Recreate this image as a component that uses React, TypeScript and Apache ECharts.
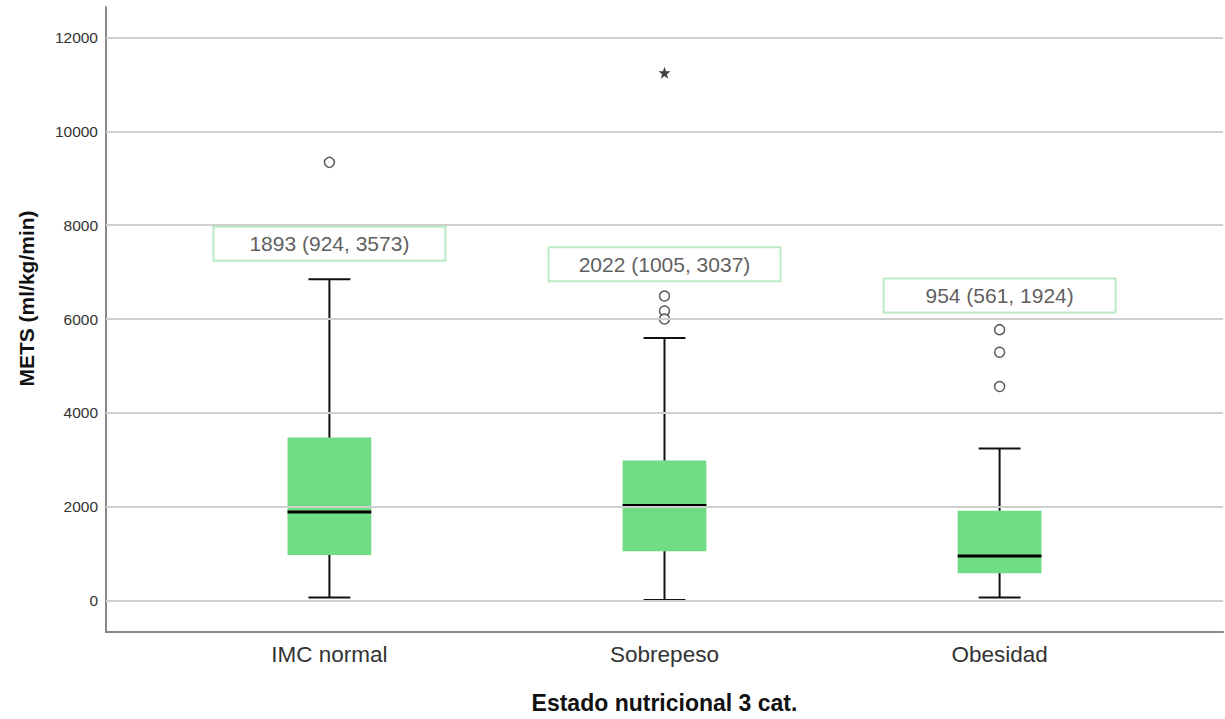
import React, { useEffect, useRef } from "react";
import * as echarts from "echarts";

const categories = ["IMC normal", "Sobrepeso", "Obesidad"];
const whiskerLow = [68, 11, 68];
const q1 = [973, 1052, 584];
const median = [1887, 2029, 952];
const q3 = [3474, 2985, 1916];
const whiskerHigh = [6851, 5598, 3240];
const outliersIMC = [9340];
const outliersSobrepeso = [6490, 6171, 6001];
const outliersObesidad = [5774, 5294, 4563];
const extremesSobrepeso = [11249];
const annotationTexts = ["1893 (924, 3573)", "2022 (1005, 3037)", "954 (561, 1924)"];
const annotationY = [7606, 7170, 6501];
const yTicks = [0, 2000, 4000, 6000, 8000, 10000, 12000];

const SANS = "'Liberation Sans', Arial, sans-serif";
const STAR =
  "path://M50 0 L61.76 33.82 L97.55 34.55 L69.02 56.18 L79.39 90.45 L50 70 L20.61 90.45 L30.98 56.18 L2.45 34.55 L38.24 33.82 Z";

export default function App() {
  const ref = useRef<HTMLDivElement>(null);
  useEffect(() => {
    if (!ref.current) return;
    const chart = echarts.init(ref.current, undefined, { renderer: "svg" });
    const boxData = categories.map((_, i) => [i, whiskerLow[i], q1[i], median[i], q3[i], whiskerHigh[i]]);
    const outlierData = [
      ...outliersIMC.map((v) => [0, v]),
      ...outliersSobrepeso.map((v) => [1, v]),
      ...outliersObesidad.map((v) => [2, v]),
    ];
    const extremeData = extremesSobrepeso.map((v) => [1, v]);
    const annData = categories.map((_, i) => [i, annotationY[i]]);

    chart.setOption({
      animation: false,
      backgroundColor: "#ffffff",
      grid: { left: 106, right: 2, top: 7, bottom: 85, containLabel: false },
      xAxis: {
        type: "value",
        min: -2 / 3,
        max: 8 / 3,
        axisLine: { show: true, onZero: false, lineStyle: { color: "#888888", width: 2 } },
        axisTick: { show: false },
        splitLine: { show: false },
        axisLabel: {
          customValues: [0, 1, 2],
          formatter: (v: number) => categories[Math.round(v)] ?? "",
          fontSize: 22.5,
          fontFamily: SANS,
          color: "#333333",
          margin: 11,
        },
        name: "Estado nutricional 3 cat.",
        nameLocation: "middle",
        nameGap: 59,
        nameTextStyle: { fontSize: 23, fontWeight: "bold", fontFamily: SANS, color: "#111111" },
      },
      yAxis: {
        type: "value",
        min: -669,
        max: 12651,
        axisLine: { show: true, onZero: false, lineStyle: { color: "#888888", width: 2 } },
        axisTick: { show: false },
        splitLine: { show: false },
        axisLabel: {
          customValues: yTicks,
          formatter: (v: number) => String(v),
          fontSize: 15.5,
          fontFamily: SANS,
          color: "#333333",
          margin: 8,
        },
        name: "METS (ml/kg/min)",
        nameLocation: "middle",
        nameGap: 69,
        nameTextStyle: {
          fontSize: 21,
          fontWeight: "bold",
          fontFamily: SANS,
          color: "#111111",
          padding: [0, 0, 0, 42],
        },
      },
      series: [
        {
          type: "custom",
          name: "box",
          z: 1,
          data: boxData,
          encode: { x: 0, y: [1, 2, 3, 4, 5] },
          renderItem: (params: any, api: any) => {
            const x = api.value(0);
            const pQ1 = api.coord([x, api.value(2)]);
            const pQ3 = api.coord([x, api.value(4)]);
            const w = api.size([0.25, 0])[0];
            return {
              type: "rect",
              shape: { x: pQ1[0] - w / 2, y: pQ3[1], width: w, height: pQ1[1] - pQ3[1] },
              style: { fill: "#70dc84" },
            };
          },
        },
        {
          type: "line",
          name: "grid",
          z: 2,
          data: [],
          markLine: {
            silent: true,
            symbol: ["none", "none"],
            label: { show: false },
            lineStyle: { color: "#cfcfcf", width: 2, type: "solid" },
            data: yTicks.map((v) => ({ yAxis: v })),
          },
        },
        {
          type: "custom",
          name: "whiskers",
          z: 3,
          data: boxData,
          encode: { x: 0, y: [1, 2, 3, 4, 5] },
          renderItem: (params: any, api: any) => {
            const x = api.value(0);
            const pLow = api.coord([x, api.value(1)]);
            const pQ1 = api.coord([x, api.value(2)]);
            const pMed = api.coord([x, api.value(3)]);
            const pQ3 = api.coord([x, api.value(4)]);
            const pHigh = api.coord([x, api.value(5)]);
            const w = api.size([0.25, 0])[0];
            const cw = w / 2;
            const cx = pQ1[0];
            const ls = { stroke: "#111111", lineWidth: 2 };
            return {
              type: "group",
              children: [
                { type: "line", shape: { x1: cx, y1: pLow[1], x2: cx, y2: pQ1[1] }, style: ls },
                { type: "line", shape: { x1: cx, y1: pQ3[1], x2: cx, y2: pHigh[1] }, style: ls },
                { type: "line", shape: { x1: cx - cw / 2, y1: pLow[1], x2: cx + cw / 2, y2: pLow[1] }, style: ls },
                { type: "line", shape: { x1: cx - cw / 2, y1: pHigh[1], x2: cx + cw / 2, y2: pHigh[1] }, style: ls },
                {
                  type: "line",
                  shape: { x1: cx - w / 2, y1: pMed[1], x2: cx + w / 2, y2: pMed[1] },
                  style: { stroke: "#000000", lineWidth: 3 },
                },
              ],
            };
          },
        },
        {
          type: "scatter",
          name: "outliers",
          z: 4,
          data: outlierData,
          symbol: "circle",
          symbolSize: 10,
          itemStyle: { color: "#ffffff", borderColor: "#333333", borderWidth: 1.5 },
        },
        {
          type: "scatter",
          name: "extremes",
          z: 4,
          data: extremeData,
          symbol: STAR,
          symbolSize: 12,
          itemStyle: { color: "#111111" },
        },
        {
          type: "scatter",
          name: "annotations",
          z: 5,
          data: annData,
          symbol: "rect",
          symbolSize: 1,
          itemStyle: { color: "rgba(0,0,0,0)" },
          label: {
            show: true,
            position: "inside",
            formatter: (p: any) => annotationTexts[p.dataIndex],
            fontSize: 21,
            fontFamily: SANS,
            color: "#333333",
            borderColor: "#a9e6b4",
            borderWidth: 2,
            width: 232,
            height: 34,
            lineHeight: 34,
            align: "center",
            verticalAlign: "middle",
          },
        },
      ],
    });
    return () => chart.dispose();
  }, []);
  return (
    <div
      ref={ref}
      style={{ position: "fixed", left: 0, top: 0, width: 1225, height: 719, background: "#ffffff" }}
    />
  );
}
